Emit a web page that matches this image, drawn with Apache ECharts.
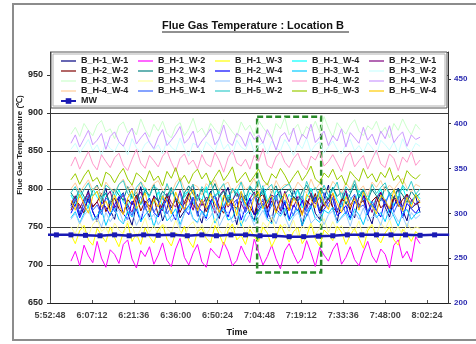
<!DOCTYPE html>
<html><head><meta charset="utf-8">
<script src="https://cdn.jsdelivr.net/npm/echarts@6/dist/echarts.min.js"></script>
<style>html,body{margin:0;padding:0;background:#fff}#c{width:476px;height:344px}</style>
</head><body><div id="c"></div>
<script>
// ---------- DATA ----------
const seriesNames = ['B_H-1_W-1','B_H-1_W-2','B_H-1_W-3','B_H-1_W-4','B_H-2_W-1',
  'B_H-2_W-2','B_H-2_W-3','B_H-2_W-4','B_H-3_W-1','B_H-3_W-2',
  'B_H-3_W-3','B_H-3_W-4','B_H-4_W-1','B_H-4_W-2','B_H-4_W-3',
  'B_H-4_W-4','B_H-5_W-1','B_H-5_W-2','B_H-5_W-3','B_H-5_W-4'];
const sampleStart = '6:00:00';   // first reading
const sampleStepSec = 90;        // reading interval (s)

const H1W1 = [778,790,765,782,798,770,757,785,801,772, 760,788,795,768,752,780,803,776,763,791, 784,758,774,799,787,762,771,794,806,769, 755,783,797,773,761,789,802,777,753,781, 792,766,759,786,804,771,756,790,798,764, 775,800,783,751,779,793,768,760,787,805, 774,757,784,796,770,762,791,799,767,754, 782,795,776,763,788,801,772,758,785,790, 769];
const H1W2 = [705,718,699,726,712,703,731,709,697,720, 714,702,727,733,708,696,719,711,724,701, 713,729,706,698,721,735,710,700,716,727, 704,697,722,715,709,730,718,699,706,725, 712,703,734,717,700,711,726,708,695,719, 728,714,702,709,732,716,698,723,713,705, 720,729,701,710,724,707,699,717,731,712, 703,721,714,696,726,733,709,718,704,737, 728];
const H1W3 = [740,728,745,752,733,726,748,739,730,750, 736,724,743,755,731,741,727,749,737,729, 746,753,734,725,742,738,751,732,723,744, 748,735,729,752,740,726,745,754,733,739, 727,747,737,731,750,742,724,736,753,741, 730,744,749,728,738,755,734,725,746,740, 732,751,743,727,739,748,735,722,745,753, 737,729,742,750,733,726,747,741,731,744, 738];
const H1W4 = [792,780,797,785,776,801,789,782,795,778, 787,799,783,775,794,790,779,802,786,781, 796,777,788,800,784,774,793,798,780,791, 785,803,779,789,797,776,792,784,800,787, 778,795,790,782,804,786,777,798,791,780, 793,785,799,775,788,801,783,794,779,790, 802,786,776,796,789,781,799,784,792,777, 788,800,782,795,778,791,803,785,780,794, 787];
const H2W1 = [780,791,774,786,795,777,783,770,789,797, 775,784,792,779,769,788,796,781,773,790, 785,771,794,782,776,798,780,787,772,793, 778,789,783,768,791,799,776,785,795,781, 770,787,796,779,784,774,792,788,771,797, 782,776,790,785,773,795,780,789,777,786, 794,772,783,798,779,787,775,791,784,769, 788,796,781,774,790,783,777,793,786,779, 784];
const H2W2 = [772,785,779,768,790,776,783,794,770,781, 788,774,767,786,779,792,771,784,777,789, 765,780,791,775,787,769,782,795,778,773, 786,770,783,792,776,768,789,780,774,791, 781,777,766,788,793,775,784,770,786,779, 772,790,783,767,785,778,794,771,780,788, 776,769,787,782,773,791,779,785,768,784, 790,775,781,770,789,777,786,793,774,780, 783];
const H2W3 = [795,786,801,790,782,798,805,789,794,781, 800,792,785,803,788,796,780,799,791,806, 784,797,790,802,787,779,795,804,793,786, 799,783,794,807,789,797,782,801,790,795, 785,803,792,788,798,781,796,804,787,793, 800,789,784,797,805,791,783,799,794,786, 802,790,796,780,793,806,788,798,785,799, 791,784,803,795,787,800,792,782,797,789, 794];
const H2W4 = [768,780,762,775,787,770,758,783,776,765, 779,790,767,760,784,773,757,781,788,769, 763,776,786,771,759,782,774,766,789,778, 770,761,784,792,768,777,763,780,786,759, 775,788,766,772,781,762,790,774,767,783, 760,779,771,785,764,776,789,768,773,782, 787,765,770,778,761,784,775,791,766,780, 772,763,786,769,777,790,762,781,774,768, 776];
const H3W1 = [762,770,755,768,777,759,765,773,752,767, 775,760,754,771,763,779,757,766,772,750, 769,776,758,764,774,753,768,778,761,756, 771,763,780,755,767,774,759,762,776,751, 766,772,757,769,779,760,754,770,764,775, 758,767,773,752,765,778,761,756,772,768, 776,755,763,770,759,774,766,753,771,780, 762,769,757,775,764,751,768,773,760,767, 770];
const H3W2 = [852,860,847,856,865,850,858,844,862,853, 849,861,857,845,866,854,848,859,863,851, 858,846,864,855,850,867,853,843,860,857, 847,862,856,849,868,852,859,845,864,855, 851,866,848,857,861,846,863,854,850,865, 856,844,860,853,867,849,858,862,847,855, 863,852,846,859,865,850,857,848,861,854, 845,864,858,851,862,847,866,853,849,860, 856];
const H3W3 = [872,881,869,886,877,870,884,890,875,879, 866,883,888,874,880,871,892,878,868,885, 876,889,873,867,882,887,870,879,893,874, 880,869,886,878,872,891,883,875,868,888, 877,884,870,890,881,873,866,886,879,894, 871,878,885,869,882,876,889,874,895,880, 868,887,879,872,884,891,876,870,883,878, 889,873,881,867,886,877,892,880,871,885, 878];
const H3W4 = [750,741,756,745,738,753,760,744,749,737, 755,746,740,758,751,736,747,762,743,752, 739,754,748,742,759,745,735,751,757,744, 753,740,749,761,746,738,755,743,750,758, 741,752,745,737,756,749,763,742,747,754, 744,759,738,751,746,755,740,748,761,743, 757,745,752,739,750,744,758,736,749,753, 740,756,747,760,742,751,738,755,746,750, 748];
const H4W1 = [760,768,754,765,772,758,763,750,769,757, 766,773,756,761,770,752,764,775,759,767, 753,762,771,757,766,749,768,774,760,755, 769,758,764,776,751,763,770,756,761,773, 757,767,752,762,772,759,766,754,771,764, 750,763,769,758,774,755,761,768,753,766, 771,756,762,767,751,770,760,775,758,763, 765,752,773,759,768,757,764,750,769,761, 766];
const H4W2 = [830,842,826,838,849,833,825,845,836,828, 841,847,831,824,839,852,834,827,844,837, 829,843,850,835,823,840,846,832,838,826, 845,833,829,848,837,822,841,851,834,830, 839,826,844,836,853,831,827,842,849,835, 828,840,847,832,825,843,838,850,830,836, 845,834,823,841,848,829,837,844,826,839, 851,833,828,846,840,824,842,835,849,831, 838];
const H4W3 = [860,871,855,866,877,858,864,873,852,869, 875,862,856,870,880,859,867,874,861,853, 868,878,857,864,872,882,860,866,876,854, 863,870,879,858,866,884,862,857,873,868, 856,875,865,871,860,878,867,851,869,874, 862,880,858,872,866,885,861,868,876,857, 870,863,879,855,874,867,860,881,864,872, 858,876,866,883,861,869,875,856,871,865, 868];
const H4W4 = [800,808,795,804,812,798,803,791,809,801, 796,806,813,799,805,793,810,802,797,807, 811,798,804,794,808,815,800,796,806,803, 792,807,801,812,797,805,809,795,803,810, 799,804,814,796,802,808,793,811,800,806, 805,797,809,802,794,813,799,807,801,796, 810,803,795,808,800,812,798,804,791,809, 802,811,797,805,799,807,814,801,796,806, 803];
const H5W1 = [775,787,768,781,792,772,779,766,788,783, 770,785,794,776,765,782,790,773,786,769, 780,791,767,777,784,795,771,778,789,764, 786,774,781,793,768,777,788,772,783,796, 769,782,790,775,787,766,779,792,774,785, 778,765,784,791,770,780,787,773,795,776, 789,771,783,767,786,793,775,779,768,784, 772,788,780,794,769,782,776,790,774,781, 785];
const H5W2 = [795,803,788,799,808,791,797,785,805,800, 792,806,811,794,787,802,809,796,790,804, 799,786,807,793,801,812,789,798,806,784, 803,795,810,790,799,807,786,801,794,809, 788,804,797,812,792,800,806,785,798,803, 807,793,799,786,810,796,802,789,805,791, 798,809,787,803,795,811,790,800,784,806, 794,802,808,791,799,786,805,797,810,793, 800];
const H5W3 = [812,820,806,817,825,810,815,803,822,818, 808,819,827,813,805,821,816,809,824,811, 817,804,823,814,828,810,818,807,820,826, 813,821,806,816,825,811,819,829,808,815, 822,809,817,826,812,805,820,814,827,818, 807,816,824,811,819,830,813,808,821,815, 826,812,818,805,823,816,810,827,814,820, 809,822,815,828,811,818,806,824,817,813, 819];
const H5W4 = [785,772,793,780,768,790,797,776,784,770, 792,779,766,788,798,774,782,795,769,787, 776,791,783,767,796,780,773,789,799,771, 786,775,794,781,769,792,778,787,765,797, 780,770,789,796,774,784,791,768,783,794, 771,788,779,765,793,786,775,798,782,773, 795,781,769,790,777,787,772,796,784,778, 767,792,785,774,799,780,771,789,776,793, 782];
const seriesValues = [H1W1,H1W2,H1W3,H1W4,H2W1,H2W2,H2W3,H2W4,H3W1,H3W2,H3W3,H3W4,H4W1,H4W2,H4W3,H4W4,H5W1,H5W2,H5W3,H5W4];

// MW (right axis), one reading every 5 minutes from 5:50:00
const mwName = 'MW';
const mwStart = '5:50:00';
const mwStepSec = 300;
const mwValues = [276,276,276,275.5,275,276,275,276,275.5,276, 275,276,275,276,276,275,275,274,274,274.5, 275,276,276,276,276,276,275.5,276,276];

// axes
const xAxisMin = '5:52:48', xAxisMax = '8:09:36', xTickStepSec = 864;
const leftMin = 650, leftMax = 980, leftStep = 50;
const rightMin = 200, rightMax = 480, rightStep = 50;

// highlighted window (green dashed box)
const boxFrom = '7:04:00', boxTo = '7:26:00', boxLow = 690, boxHigh = 895;

// ---------- STYLE ----------
const colors = ['#000080','#FF00FF','#FFFF00','#00FFFF','#800080','#800000','#008080','#0000FF','#00CCFF','#CCFFFF',
  '#CCFFCC','#FFFF99','#99CCFF','#FF99CC','#CC99FF','#FFCC99','#3366FF','#33CCCC','#99CC00','#FFCC00'];
const FONT = '"Liberation Sans", Arial, sans-serif';
const LINE_ICON = 'path://M0,0H15V1.2H0Z';

function toSec(s){ const p = s.split(':').map(Number); return p[0]*3600 + p[1]*60 + p[2]; }
function fmt(v){ v = Math.round(v); const h = Math.floor(v/3600), m = Math.floor(v%3600/60), s = v%60;
  return h + ':' + String(m).padStart(2,'0') + ':' + String(s).padStart(2,'0'); }

const t0 = toSec(sampleStart);
const series = seriesValues.map((vals, k) => ({
  name: seriesNames[k], type: 'line', symbol: 'none', showSymbol: false,
  xAxisIndex: 0, yAxisIndex: 0, z: 2,
  lineStyle: { width: 1, color: colors[k] }, itemStyle: { color: colors[k] },
  data: vals.map((v, i) => [t0 + i*sampleStepSec, v])
}));
const mw0 = toSec(mwStart);
series.push({
  name: mwName, type: 'line', yAxisIndex: 1, symbol: 'rect', symbolSize: 5, z: 4,
  lineStyle: { width: 2.5, color: '#1a1ab4' }, itemStyle: { color: '#1a1ab4' },
  data: mwValues.map((v, i) => [mw0 + i*mwStepSec, v])
});
series.push({
  name: 'box', type: 'line', yAxisIndex: 0, data: [], z: 5, silent: true,
  markArea: { silent: true, itemStyle: { color: 'rgba(0,0,0,0)', borderColor: '#2a8a2a', borderWidth: 2.5, borderType: [6, 3] },
    data: [[{ xAxis: toSec(boxFrom), yAxis: boxHigh }, { xAxis: toSec(boxTo), yAxis: boxLow }]] }
});

const chart = echarts.init(document.getElementById('c'), null, { renderer: 'canvas' });
chart.setOption({
  animation: false,
  backgroundColor: '#fff',
  textStyle: { fontFamily: FONT },
  title: { text: 'Flue Gas Temperature : Location B', left: 162, top: 20, padding: 0,
    textStyle: { fontSize: 11, fontWeight: 'bold', color: '#111', fontFamily: FONT } },
  grid: { left: 50, right: 28, top: 52, bottom: 41, containLabel: false },
  legend: {
    data: [...seriesNames.map(n => ({ name: n, icon: LINE_ICON })), mwName],
    left: 60, top: 56, width: 392, padding: 0, symbolKeepAspect: true,
    itemWidth: 15, itemHeight: 7, itemGap: 0, selectedMode: false, z: 10,
    textStyle: { fontSize: 9, fontWeight: 'bold', color: '#222', width: 57, lineHeight: 10, fontFamily: FONT }
  },
  xAxis: {
    type: 'value', min: toSec(xAxisMin), max: toSec(xAxisMax), interval: xTickStepSec,
    name: 'Time', nameLocation: 'middle', nameGap: 25,
    nameTextStyle: { fontSize: 9, fontWeight: 'bold', color: '#111', padding: [0, 24, 0, 0], fontFamily: FONT },
    axisLine: { lineStyle: { color: '#222', width: 1 } },
    axisTick: { inside: true, length: 3, lineStyle: { color: '#555' } },
    axisLabel: { formatter: fmt, showMaxLabel: false, fontSize: 9, fontWeight: 'bold', color: '#444', margin: 8, fontFamily: FONT },
    splitLine: { show: false }
  },
  yAxis: [{
    type: 'value', position: 'left', min: leftMin, max: leftMax, interval: leftStep,
    axisLine: { show: true, lineStyle: { color: '#333', width: 1 } },
    axisTick: { show: true, length: 3, lineStyle: { color: '#333' } },
    axisLabel: { showMaxLabel: false, fontSize: 9, fontWeight: 'bold', color: '#222', margin: 7, fontFamily: FONT },
    splitLine: { show: true, lineStyle: { color: '#3a3a3a', width: 1 } }
  }, {
    type: 'value', position: 'right', min: rightMin, max: rightMax, interval: rightStep,
    axisLine: { show: true, lineStyle: { color: '#333', width: 1 } },
    axisTick: { show: true, length: 3, lineStyle: { color: '#333' } },
    axisLabel: { showMaxLabel: false, fontSize: 8, fontWeight: 'bold', color: '#2a2ab0', margin: 6, fontFamily: FONT },
    splitLine: { show: false }
  }],
  graphic: [
    { type: 'rect', z: 0, silent: true, shape: { x: 13, y: 4, width: 480, height: 336 },
      style: { fill: null, stroke: '#8c8c8c', lineWidth: 2 } },
    { type: 'rect', z: 6, silent: true, shape: { x: 51, y: 52, width: 396, height: 56 },
      style: { fill: '#fff', stroke: '#555', lineWidth: 1 } },
    { type: 'rect', z: 6, silent: true, shape: { x: 53, y: 54, width: 392, height: 52 },
      style: { fill: null, stroke: '#b0b0b0', lineWidth: 1 } },
    { type: 'line', z: 6, silent: true, shape: { x1: 162, y1: 32, x2: 349, y2: 32 },
      style: { stroke: '#222', lineWidth: 1 } },
    { type: 'text', z: 6, silent: true, x: 20, y: 145, rotation: Math.PI / 2,
      style: { text: 'Flue Gas Temperature (℃)', fontSize: 8, fontWeight: 'bold', fill: '#222',
        fontFamily: FONT, textAlign: 'center', textVerticalAlign: 'middle' } }
  ],
  series: series
});
</script>
</body></html>
